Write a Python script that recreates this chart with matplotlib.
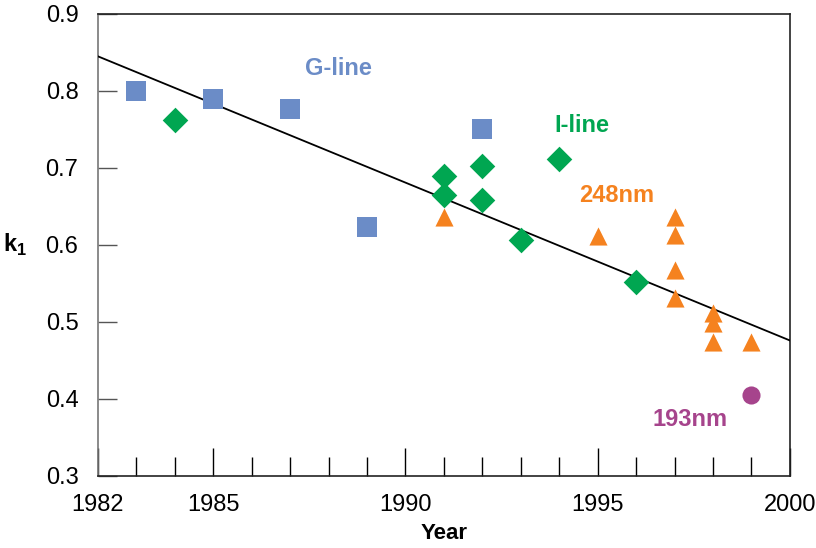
import matplotlib.pyplot as plt
from matplotlib.ticker import MultipleLocator

plt.rcParams['font.family'] = ['Liberation Sans', 'DejaVu Sans']

# G-line (blue squares)
g_years = [1983, 1985, 1987, 1989, 1992]
g_k1 = [0.800, 0.790, 0.777, 0.624, 0.750]

# I-line (green diamonds)
i_years = [1984, 1991, 1991, 1992, 1992, 1993, 1994, 1996]
i_k1 = [0.762, 0.690, 0.665, 0.702, 0.658, 0.607, 0.712, 0.552]

# 248nm (orange triangles)
kr_years = [1991, 1995, 1997, 1997, 1997, 1997, 1998, 1998, 1998, 1999]
kr_k1 = [0.636, 0.612, 0.636, 0.613, 0.568, 0.531, 0.512, 0.499, 0.474, 0.474]

# 193nm (purple circle)
arf_years = [1999]
arf_k1 = [0.405]

# trend line end points
trend_years = [1982, 2000]
trend_k1 = [0.845, 0.476]

blue = "#6b8cc7"
green = "#00a651"
orange = "#f5821f"
purple = "#a6448c"

fig = plt.figure(figsize=(8.16, 5.48), dpi=100)
ax = fig.add_axes([0.120, 0.1314, 0.848, 0.8431])

ax.plot(trend_years, trend_k1, color="black", linewidth=1.3, zorder=3)
ax.scatter(g_years, g_k1, marker="s", s=200, color=blue, linewidths=0, zorder=4)
ax.scatter(i_years, i_k1, marker="D", s=170, color=green, linewidths=0, zorder=4)
ax.scatter(kr_years, kr_k1, marker="^", s=170, color=orange, linewidths=0, zorder=4)
ax.scatter(arf_years, arf_k1, marker="o", s=170, color=purple, linewidths=0, zorder=4)

# series labels
ax.text(1988.25, 0.829, "G-line", color=blue, fontsize=17, fontweight="bold", ha="center", va="center")
ax.text(1994.6, 0.755, "I-line", color=green, fontsize=17, fontweight="bold", ha="center", va="center")
ax.text(1995.5, 0.664, "248nm", color=orange, fontsize=17, fontweight="bold", ha="center", va="center")
ax.text(1997.4, 0.374, "193nm", color=purple, fontsize=17, fontweight="bold", ha="center", va="center")

ax.set_xlim(1982, 2000)
ax.set_ylim(0.3, 0.9)
ax.set_xticks([1982, 1985, 1990, 1995, 2000])
ax.xaxis.set_minor_locator(MultipleLocator(1))
ax.set_yticks([0.3, 0.4, 0.5, 0.6, 0.7, 0.8, 0.9])
ax.set_yticklabels(["0.3", "0.4", "0.5", "0.6", "0.7", "0.8", "0.9"])

ax.tick_params(axis="x", which="major", direction="in", length=20, width=1, pad=13, labelsize=17)
ax.tick_params(axis="x", which="minor", direction="in", length=14, width=1)
ax.tick_params(axis="y", direction="in", length=14, width=1, pad=14, labelsize=17, color="#555555")

for side in ["top", "right", "bottom"]:
    ax.spines[side].set_linewidth(1.2)
    ax.spines[side].set_color("#222222")
ax.spines["left"].set_linewidth(1.2)
ax.spines["left"].set_color("#777777")

ax.set_xlabel("Year", fontsize=16, fontweight="bold", labelpad=5)
ax.set_ylabel("k$_\\mathregular{1}$", fontsize=17, fontweight="bold", rotation=0, labelpad=22, va="center")

fig.savefig("out.png", dpi=100)
